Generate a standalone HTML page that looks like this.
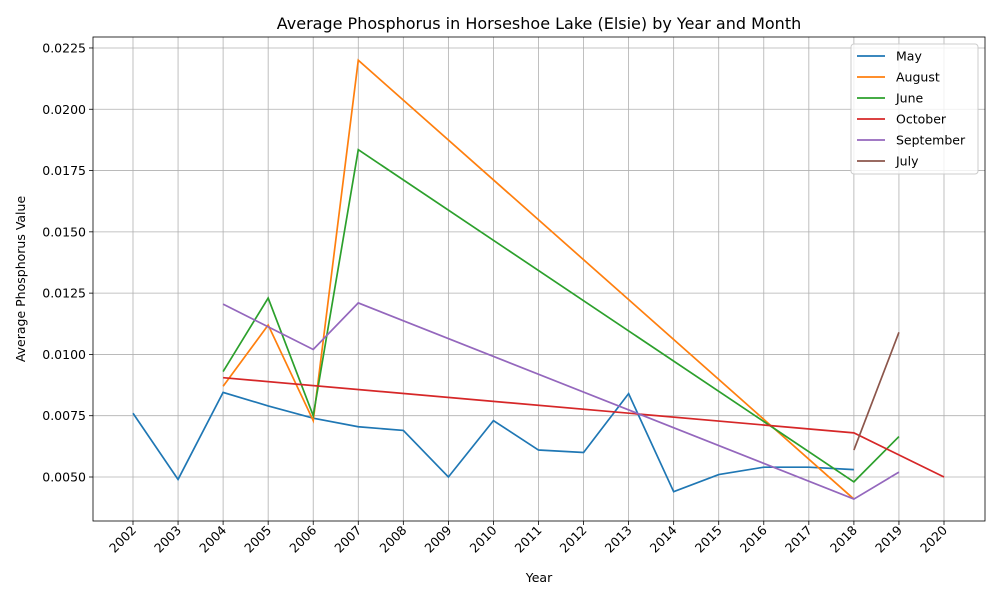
<!DOCTYPE html>
<html><head><meta charset="utf-8"><style>
body{margin:0;background:#fff;font-family:"Liberation Sans","DejaVu Sans",sans-serif}
svg text{font-family:"DejaVu Sans","Liberation Sans",sans-serif}
</style></head><body>
<svg id="chart" width="1000" height="600" xmlns="http://www.w3.org/2000/svg"></svg>
<script>
const years=[2002,2003,2004,2005,2006,2007,2008,2009,2010,2011,2012,2013,2014,2015,2016,2017,2018,2019,2020];
const yTicks=[0.0050,0.0075,0.0100,0.0125,0.0150,0.0175,0.0200,0.0225];
const seriesNames=["May","August","June","October","September","July"];
const seriesColors=["#1f77b4","#ff7f0e","#2ca02c","#d62728","#9467bd","#8c564b"];
const mayX=[2002,2003,2004,2005,2006,2007,2008,2009,2010,2011,2012,2013,2014,2015,2016,2017,2018];
const mayY=[0.0076,0.0049,0.00845,0.0079,0.0074,0.00705,0.0069,0.0050,0.0073,0.0061,0.0060,0.0084,0.0044,0.0051,0.0054,0.0054,0.0053];
const augX=[2004,2005,2006,2007,2018];
const augY=[0.0087,0.0112,0.0073,0.0220,0.0041];
const junX=[2004,2005,2006,2007,2018,2019];
const junY=[0.0093,0.0123,0.0075,0.01835,0.0048,0.00665];
const octX=[2004,2018,2020];
const octY=[0.00905,0.0068,0.0050];
const sepX=[2004,2006,2007,2018,2019];
const sepY=[0.01205,0.0102,0.0121,0.0041,0.0052];
const julX=[2018,2019];
const julY=[0.0061,0.0109];
const NS="http://www.w3.org/2000/svg";
const svg=document.getElementById('chart');
const L=93,R=985,T=37,B=521;
const xs=y=>133+(y-2002)*(944-133)/18;
const ys=v=>477-(v-0.005)/0.0025*61.29;
function mk(tag,attrs,parent){const e=document.createElementNS(NS,tag);for(const k in attrs)e.setAttribute(k,attrs[k]);(parent||svg).appendChild(e);return e;}
years.forEach(y=>{const l=mk('line',{x1:xs(y),x2:xs(y),y1:T,y2:B,stroke:'#b0b0b0','stroke-width':0.8});


mk('line',{x1:xs(y),x2:xs(y),y1:B,y2:B+4,stroke:'#000','stroke-width':0.8});
const tx=mk('text',{x:0,y:0,'font-size':12.5,'text-anchor':'end',transform:`translate(${xs(y)+4},${B+10}) rotate(-45)`,fill:'#000'});
tx.textContent=y;


});
yTicks.forEach(v=>{const l=mk('line',{x1:L,x2:R,y1:ys(v),y2:ys(v),stroke:'#b0b0b0','stroke-width':0.8});


mk('line',{x1:L-4,x2:L,y1:ys(v),y2:ys(v),stroke:'#000','stroke-width':0.8});
const tx=mk('text',{x:L-7,y:ys(v)+4.5,'font-size':12.5,'text-anchor':'end'});
tx.textContent=v.toFixed(4);


});
const frame=mk('rect',{x:L,y:T,width:R-L,height:B-T,fill:'none',stroke:'#000','stroke-width':0.8});


const allX=[mayX,augX,junX,octX,sepX,julX],allY=[mayY,augY,junY,octY,sepY,julY];
allX.forEach((X,i)=>{const p=mk('polyline',{points:X.map((x,j)=>xs(x)+','+ys(allY[i][j])).join(' '),fill:'none',stroke:seriesColors[i],'stroke-width':1.7});


});
const title=mk('text',{x:(L+R)/2,y:29,'font-size':16,'text-anchor':'middle'});title.textContent="Average Phosphorus in Horseshoe Lake (Elsie) by Year and Month";


const xt=mk('text',{x:(L+R)/2,y:582,'font-size':12.5,'text-anchor':'middle'});xt.textContent="Year";


const yt=mk('text',{x:0,y:0,'font-size':12.5,'text-anchor':'middle',transform:`translate(25,${(T+B)/2}) rotate(-90)`});yt.textContent="Average Phosphorus Value";


const lg=mk('g',{});


mk('rect',{x:851,y:44,width:127,height:130,rx:3,fill:'#fff','fill-opacity':0.8,stroke:'#ccc'},lg);
seriesNames.forEach((n,i)=>{const yy=56+i*21;
const ln=mk('line',{x1:857,x2:885,y1:yy,y2:yy,stroke:seriesColors[i],'stroke-width':1.7},lg);


const t=mk('text',{x:896,y:yy+4.5,'font-size':12.5},lg);t.textContent=n;


});
</script>
</body></html>
